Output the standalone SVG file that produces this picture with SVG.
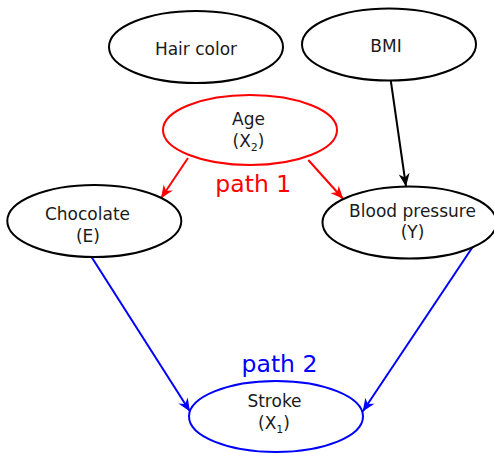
<svg xmlns="http://www.w3.org/2000/svg" width="494" height="453" viewBox="0 0 494 453">
  <style>
    .node ellipse { fill: #ffffff; stroke-width: 2; }
    .node text { font-family: "DejaVu Sans", "Liberation Sans", sans-serif; font-size: 17px; fill: #1a1a1a; text-anchor: middle; }
    .sub { font-size: 11px; }
    .edge { stroke-width: 2; fill: none; }
    .label { font-family: "DejaVu Sans", "Liberation Sans", sans-serif; font-size: 23.5px; text-anchor: middle; }
  </style>
  <defs>
    <marker id="arrow-black" markerUnits="userSpaceOnUse" markerWidth="16" markerHeight="14" viewBox="-15 -7 16 14" refX="0" refY="0" orient="auto">
      <path d="M0,0 L-13,-5.5 L-9,0 L-13,5.5 Z" fill="#000000"/>
    </marker>
    <marker id="arrow-red" markerUnits="userSpaceOnUse" markerWidth="16" markerHeight="14" viewBox="-15 -7 16 14" refX="0" refY="0" orient="auto">
      <path d="M0,0 L-13,-5.5 L-9,0 L-13,5.5 Z" fill="#ff0000"/>
    </marker>
    <marker id="arrow-blue" markerUnits="userSpaceOnUse" markerWidth="16" markerHeight="14" viewBox="-15 -7 16 14" refX="0" refY="0" orient="auto">
      <path d="M0,0 L-13,-5.5 L-9,0 L-13,5.5 Z" fill="#0000ff"/>
    </marker>
  </defs>

  <!-- connectors -->
  <g id="connectors">
    <line class="edge" x1="390.7" y1="80" x2="406" y2="186.5" stroke="#000000" marker-end="url(#arrow-black)"/>
    <line class="edge" x1="188" y1="158" x2="161" y2="198.3" stroke="#ff0000" marker-end="url(#arrow-red)"/>
    <line class="edge" x1="308.3" y1="160" x2="343.3" y2="199" stroke="#ff0000" marker-end="url(#arrow-red)"/>
    <line class="edge" x1="91.7" y1="257.3" x2="190" y2="411.5" stroke="#0000ff" marker-end="url(#arrow-blue)"/>
    <line class="edge" x1="473.3" y1="246" x2="362.7" y2="411.5" stroke="#0000ff" marker-end="url(#arrow-blue)"/>
    <text class="label" x="253.3" y="191.5" fill="#ff0000">path 1</text>
    <text class="label" x="279.5" y="371.5" fill="#0000ff">path 2</text>
  </g>

  <!-- nodes -->
  <g id="hair-color" class="node">
    <ellipse cx="196" cy="47" rx="87" ry="36" stroke="#000000"/>
    <text x="196" y="55">Hair color</text>
  </g>
  <g id="bmi" class="node">
    <ellipse cx="389" cy="44.5" rx="87" ry="36" stroke="#000000"/>
    <text x="386" y="52">BMI</text>
  </g>
  <g id="age" class="node">
    <ellipse cx="250" cy="130" rx="87" ry="35" stroke="#ff0000"/>
    <text x="248.5" y="125">Age</text>
    <text x="248.5" y="146.5">(X<tspan class="sub" dy="4">2</tspan><tspan dy="-4">)</tspan></text>
  </g>
  <g id="chocolate" class="node">
    <ellipse cx="94.3" cy="221" rx="87" ry="36" stroke="#000000"/>
    <text x="87.5" y="220">Chocolate</text>
    <text x="88" y="241.5">(E)</text>
  </g>
  <g id="blood-pressure" class="node">
    <ellipse cx="409.5" cy="222.5" rx="87" ry="36" stroke="#000000"/>
    <text x="412.5" y="216.5">Blood pressure</text>
    <text x="412.5" y="238">(Y)</text>
  </g>
  <g id="stroke" class="node">
    <ellipse cx="276" cy="416.5" rx="87" ry="35.5" stroke="#0000ff"/>
    <text x="274.5" y="406.5">Stroke</text>
    <text x="274" y="429">(X<tspan class="sub" dy="4">1</tspan><tspan dy="-4">)</tspan></text>
  </g>
</svg>
